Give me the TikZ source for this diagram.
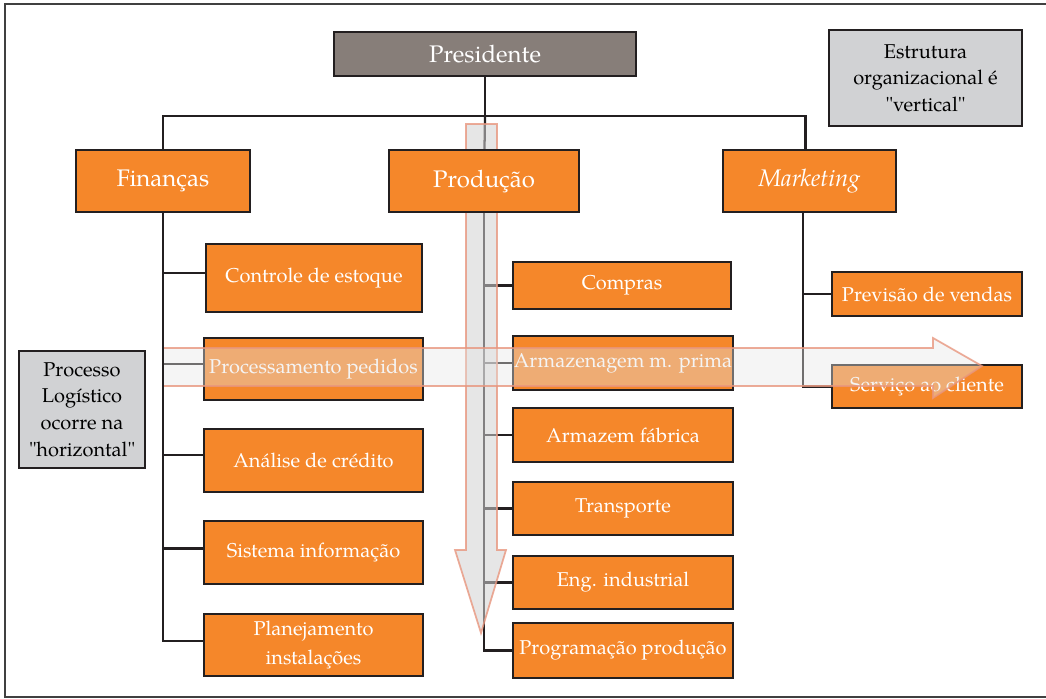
\documentclass[tikz,border=0pt]{standalone}
\usepackage{fontspec}
\setmainfont{TeX Gyre Pagella}
\usetikzlibrary{backgrounds}
\definecolor{boxorange}{HTML}{F5872A}
\definecolor{presgray}{HTML}{877E79}
\definecolor{notegray}{HTML}{D1D2D4}
\definecolor{linedark}{HTML}{231F20}
\definecolor{arrowedge}{HTML}{E8967E}
\begin{document}
\begin{tikzpicture}[x=0.75pt,y=-0.75pt,
  box/.style={draw=linedark,line width=1.8pt,inner sep=0pt,align=center},
  headbox/.style={box,fill=presgray,text=white,font=\fontsize{18}{21}\selectfont},
  deptbox/.style={box,fill=boxorange,text=white,font=\fontsize{18}{21}\selectfont,minimum height=46.5pt},
  subbox/.style={box,fill=boxorange,text=white,font=\fontsize{15}{22}\selectfont},
  notebox/.style={box,fill=notegray,text=black,font=\fontsize{15}{20}\selectfont},
  link/.style={draw=linedark,line width=1.7pt},
  downarrow/.style={draw=arrowedge,line width=1.3pt,fill=black!18,fill opacity=0.55,draw opacity=0.8},
  sidearrow/.style={draw=arrowedge,line width=1.3pt,fill=black!10,fill opacity=0.4,draw opacity=0.8}]
\clip (0,0) rectangle (1046,699);
\draw[line width=1.5pt,draw=black!75] (5,4) rectangle (1060,697);
\node[headbox,minimum width=226.5pt,minimum height=33pt] (pres) at (485,54) {Presidente};
\node[notebox,minimum width=144.75pt,minimum height=72pt] (estr) at (925.5,78) {Estrutura\\organizacional é\\\textquotedbl vertical\textquotedbl};
\node[deptbox,minimum width=130.5pt] (fin) at (163,181) {Finanças};
\node[deptbox,minimum width=142.5pt] (prod) at (484,181) {Produção};
\node[deptbox,minimum width=129.75pt] (mkt) at (809.5,181) {\itshape Marketing};
\node[subbox,minimum width=162pt,minimum height=51pt] (ctrl) at (314,278) {Controle de estoque};
\node[subbox,minimum width=164.25pt,minimum height=46.5pt] (proc) at (313.5,369) {Processamento pedidos};
\node[subbox,minimum width=164.25pt,minimum height=47.25pt] (anal) at (313.5,460.5) {Análise de crédito};
\node[subbox,minimum width=164.25pt,minimum height=47.25pt] (sist) at (313.5,552.5) {Sistema informação};
\node[subbox,minimum width=164.25pt,minimum height=46.5pt] (plan) at (313.5,645) {Planejamento\\instalações};
\node[subbox,minimum width=163.5pt,minimum height=35.25pt] (comp) at (622,285.5) {Compras};
\node[subbox,minimum width=165pt,minimum height=40.5pt] (armp) at (623,363) {Armazenagem m. prima};
\node[subbox,minimum width=165pt,minimum height=40.5pt] (armf) at (623,435) {Armazem fábrica};
\node[subbox,minimum width=165pt,minimum height=39.75pt] (transp) at (623,508.5) {Transporte};
\node[subbox,minimum width=165pt,minimum height=39.75pt] (eng) at (623,582.5) {Eng. industrial};
\node[subbox,minimum width=165pt,minimum height=41.25pt] (prog) at (623,650.5) {Programação produção};
\node[subbox,minimum width=142.5pt,minimum height=33pt] (prev) at (927,294) {Previsão de vendas};
\node[subbox,minimum width=142.5pt,minimum height=32.25pt] (serv) at (927,386.5) {Serviço ao cliente};
\node[notebox,minimum width=94.5pt,minimum height=87.75pt] (logi) at (82,409.5) {Processo\\Logístico\\ocorre na\\\textquotedbl horizontal\textquotedbl};
\coordinate (bar) at (485,116);
\coordinate (planjoin) at ([yshift=3pt]plan.west);
\begin{pgfonlayer}{background}
\draw[link] (pres) -- (bar);
\draw[link] (fin) |- (bar) -| ([xshift=-3pt]mkt.north);
\draw[link] (bar) -- (prod);
\draw[link] (fin) |- ([yshift=4pt]ctrl.west);
\draw[link] (fin) |- ([yshift=4pt]proc.west);
\draw[link] (fin) |- ([yshift=4pt]anal.west);
\draw[link] (fin) |- ([yshift=3pt]sist.west);
\draw[link] (fin) |- (planjoin);
\draw[link] (prod) |- (comp);
\draw[link] (prod) |- (armp);
\draw[link] (prod) |- (armf);
\draw[link] (prod) |- (transp);
\draw[link] (prod) |- (eng);
\draw[link] (prod) |- (prog);
\draw[link] ([xshift=-5pt]mkt.south) |- (prev);
\draw[link] ([xshift=-5pt]mkt.south) |- (serv);
\path[downarrow] (466,124) -- (497,124) -- (497,550) -- (506,550) -- (481,633) -- (455,550) -- (466,550) -- cycle;
\end{pgfonlayer}
\path[sidearrow] (163,348) -- (933,348) -- (933,338) -- (982,366) -- (933,398) -- (933,386) -- (163,386) -- cycle;
\draw[link] (fin) -- (fin |- planjoin);
\end{tikzpicture}
\end{document}
